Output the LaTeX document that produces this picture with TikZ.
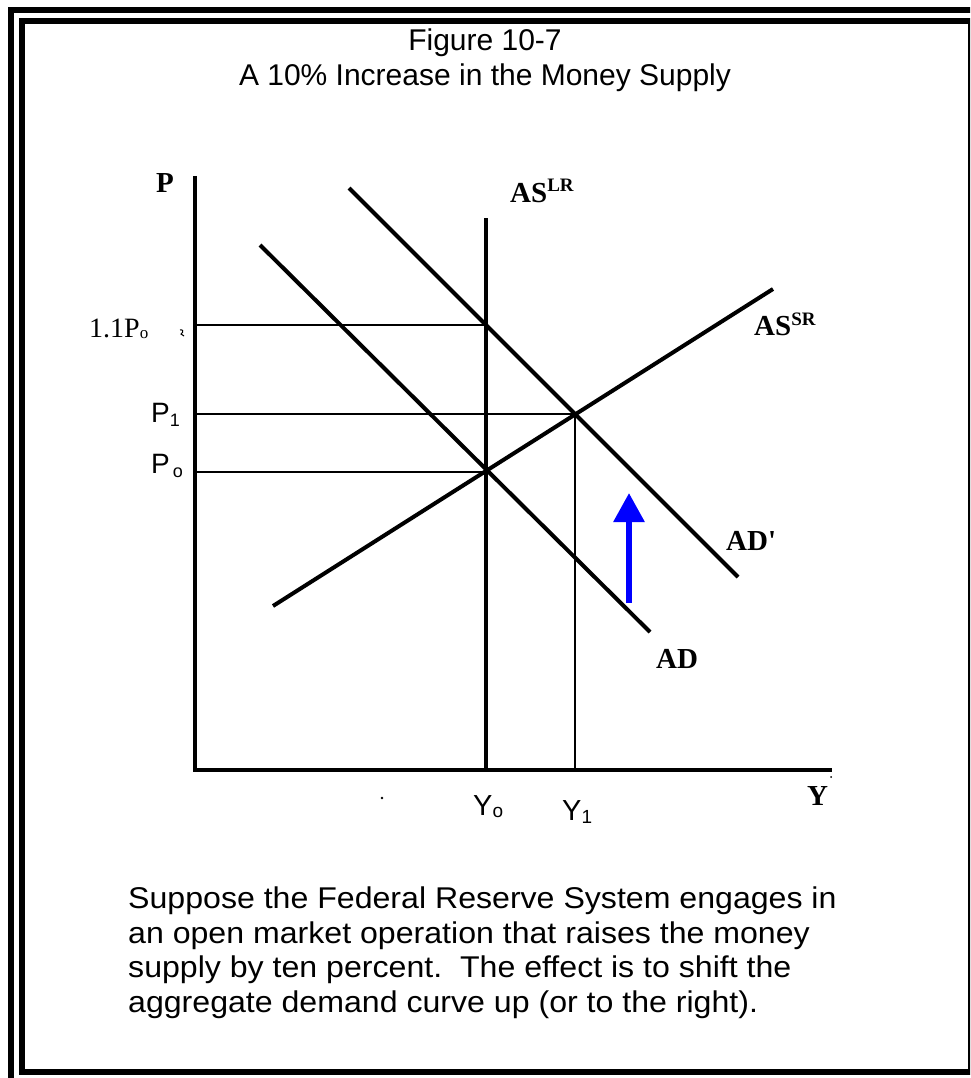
\documentclass[tikz,border=0pt]{standalone}
\usepackage{fontspec}
\setmainfont{Liberation Serif}
\newfontfamily\arial{Liberation Sans}
\newfontfamily\arialwide[FakeStretch=1.07]{Liberation Sans}
\usetikzlibrary{arrows.meta}
\begin{document}
\begin{tikzpicture}[x=1pt,y=-1pt,
  frame/.style={line width=6pt},
  axis/.style={line width=4.5pt},
  curve/.style={line width=4pt},
  guide/.style={line width=1.5pt},
  lbl/.style={font=\fontsize{29}{29}\selectfont\bfseries, inner sep=0pt, anchor=base west},
  sans/.style={font=\arial\fontsize{28}{28}\selectfont, inner sep=0pt, anchor=base west},
  ttl/.style={font=\arial\fontsize{30}{30}\selectfont, inner sep=0pt, anchor=base},
  txt/.style={font=\arialwide\fontsize{30}{34.4}\selectfont, inner sep=0pt}]
\useasboundingbox (0,0) rectangle (970,1078);
\clip (0,0) rectangle (970,1078);
\fill[white] (0,0) rectangle (970,1078);
% frames
\draw[frame] (11,10) rectangle (990,1100);
\draw[frame] (22,21) rectangle (971,1072);
% title
\node[ttl] (t1) at (485,51) {Figure 10-7};
\node[ttl] (t2) at (485,86) {A 10\% Increase in the Money Supply};
% coordinates
\coordinate (O) at (195,770);
\coordinate (Ptop) at (195,176);
\coordinate (Yend) at (832,770);
\coordinate (LRtop) at (486,218);
\coordinate (LRbot) at (486,772);
\coordinate (E0) at (486,472);
\coordinate (E1) at (575,414);
\coordinate (E2) at (486,325);
\coordinate (Y1b) at (575,770);
\coordinate (aP2) at (195,325);
\coordinate (aP1) at (195,414);
\coordinate (aP0) at (195,472);
\coordinate (ADa) at (260,245);
\coordinate (ADb) at (650,632);
\coordinate (ADpa) at (349,188);
\coordinate (ADpb) at (738,577);
\coordinate (SRa) at (273,606);
\coordinate (SRb) at (773,289);
% guide lines
\draw[guide] (aP2) -- (E2);
\draw[guide] (aP1) -- (E1);
\draw[guide] (aP0) -- (E0);
\draw[guide] (E1) -- (Y1b);
% curves
\draw[curve] (ADa) -- (ADb);
\draw[curve] (ADpa) -- (ADpb);
\draw[curve] (SRa) -- (SRb);
\draw[axis] (LRtop) -- (LRbot);
% axes
\draw[axis] (Ptop) -- (O) -- (Yend);
% arrow
\coordinate (arA) at (629,603);
\coordinate (arB) at (629,493);
\draw[blue, line width=6pt, -{Triangle[width=30pt,length=29pt]}] (arA) -- (arB);
% stray marks
\fill (382,798) circle (1.3pt);
\fill (831,777) circle (1pt);
\draw[line width=1pt] (180,330) .. controls (183,329) and (184,332) .. (181,334) -- (184,336);
% labels
\node[lbl] (lP) at (156,193) {P};
\node[lbl] (lLR) at (510,202) {AS\raisebox{10pt}{\fontsize{19}{19}\selectfont LR}};
\node[font=\fontsize{28}{28}\selectfont, inner sep=0pt, anchor=base west] (l11) at (89,337) {1.1P\raisebox{-1pt}{\fontsize{17}{17}\selectfont o}};
\node[sans] (lP1) at (151,422) {P\raisebox{-4pt}{\fontsize{18}{18}\selectfont 1}};
\node[sans] (lP0) at (151,473) {P\kern3pt\raisebox{-4pt}{\fontsize{18}{18}\selectfont o}};
\node[lbl] (lSR) at (754,335) {AS\raisebox{10pt}{\fontsize{19}{19}\selectfont SR}};
\node[lbl] (lADp) at (726,550) {AD\textquotesingle};
\node[lbl] (lAD) at (656,668) {AD};
\node[sans, font=\arial\fontsize{29}{29}\selectfont] (lY0) at (473,815) {Y\raisebox{-2pt}{\fontsize{19}{19}\selectfont o}};
\node[sans, font=\arial\fontsize{29}{29}\selectfont] (lY1) at (562,820) {Y\raisebox{-3pt}{\fontsize{19}{19}\selectfont 1}};
\node[lbl] (lY) at (807,805) {Y};
% text
\node[txt, anchor=north west, align=left] (body) at (128,887) {Suppose the Federal Reserve System engages in\\an open market operation that raises the money\\supply by ten percent.\ \ The effect is to shift the\\aggregate demand curve up (or to the right).};
\end{tikzpicture}
\end{document}
